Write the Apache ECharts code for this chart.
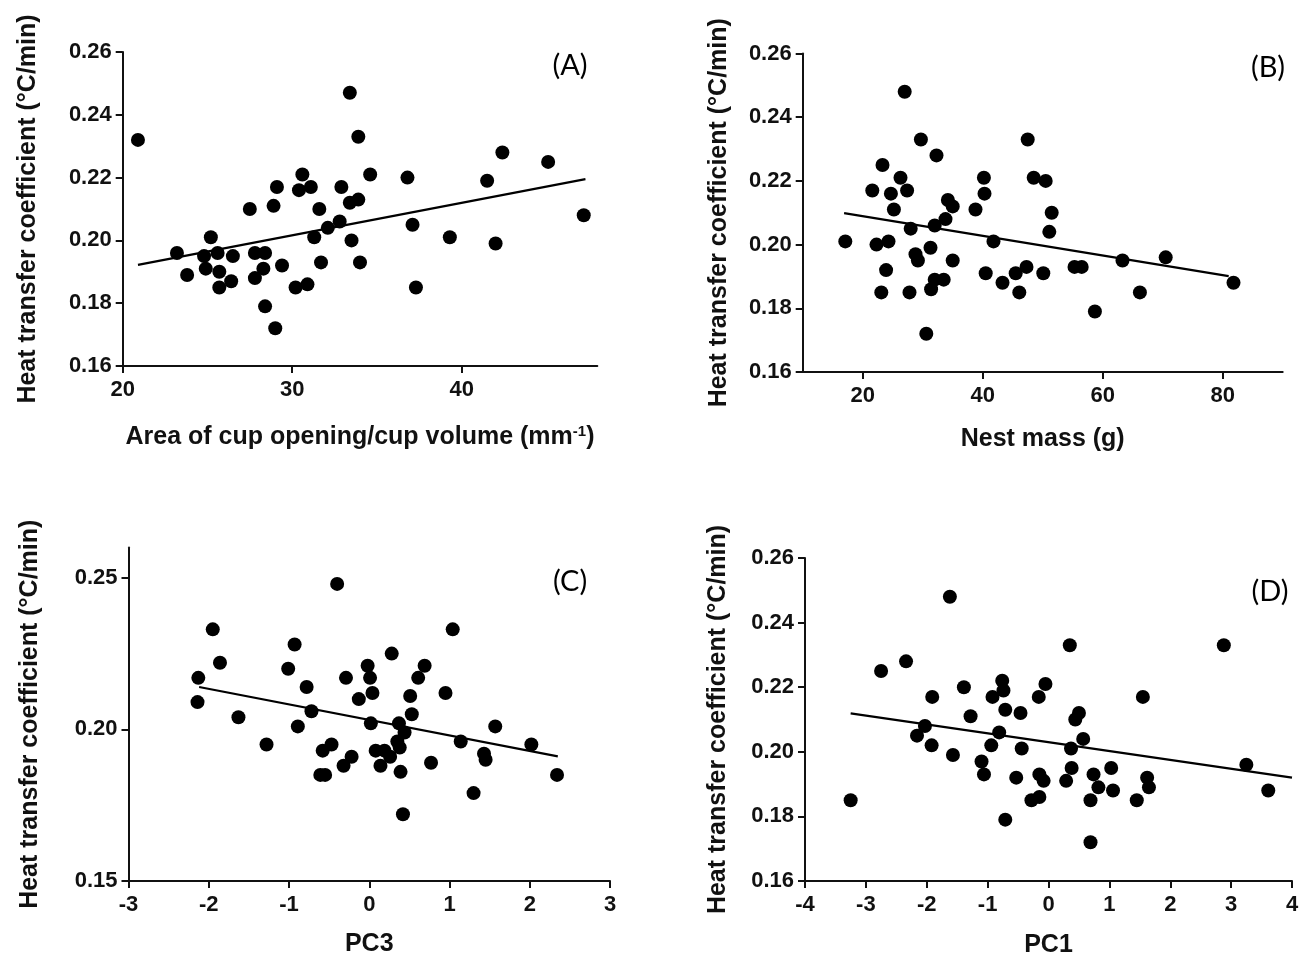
<!DOCTYPE html>
<html>
<head>
<meta charset="utf-8">
<script src="https://cdn.jsdelivr.net/npm/echarts@6/dist/echarts.min.js"></script>
<style>
  html, body { margin: 0; padding: 0; background: #fff; }
  #chart { width: 1304px; height: 959px; }
</style>
</head>
<body>
<div id="chart"></div>
<script>
// panel A: area of cup opening / cup volume
const aX = [20.9, 33.4, 33.9, 42.4, 45.1, 41.5, 36.8, 34.6, 30.6, 30.4, 31.1, 32.9, 29.1, 28.9, 27.5, 31.6, 33.4, 33.9, 32.8, 32.1, 31.3, 33.5, 47.2, 37.1, 39.3, 42.0, 25.2, 23.2, 25.6, 24.8, 26.5, 24.9, 23.8, 25.7, 25.7, 26.4, 27.8, 28.4, 27.8, 28.3, 29.4, 28.4, 29.0, 30.2, 30.9, 31.7, 34.0, 37.3];
const aY = [0.232, 0.247, 0.233, 0.228, 0.225, 0.219, 0.220, 0.221, 0.221, 0.216, 0.217, 0.217, 0.217, 0.211, 0.210, 0.210, 0.212, 0.213, 0.206, 0.204, 0.201, 0.200, 0.208, 0.205, 0.201, 0.199, 0.201, 0.196, 0.196, 0.195, 0.195, 0.191, 0.189, 0.190, 0.185, 0.187, 0.196, 0.196, 0.188, 0.191, 0.192, 0.179, 0.172, 0.185, 0.186, 0.193, 0.193, 0.185];
const aFitX = [20.9, 47.3];
const aFitY = [0.1922, 0.2195];

// panel B: nest mass
const bX = [17.1, 21.6, 23.3, 22.3, 24.3, 24.7, 23.9, 23.1, 25.2, 26.3, 27.0, 27.4, 28.0, 27.8, 28.8, 29.2, 29.7, 31.3, 31.4, 30.6, 32.0, 32.3, 32.0, 33.5, 33.8, 34.2, 35.0, 35.0, 38.8, 40.2, 40.3, 40.5, 41.8, 43.3, 45.5, 46.1, 47.3, 47.5, 48.5, 50.1, 50.5, 51.5, 51.1, 55.3, 56.5, 58.7, 63.3, 66.2, 70.5, 81.8];
const bY = [0.201, 0.217, 0.225, 0.200, 0.201, 0.216, 0.192, 0.185, 0.211, 0.221, 0.248, 0.217, 0.205, 0.185, 0.197, 0.195, 0.233, 0.199, 0.186, 0.172, 0.206, 0.228, 0.189, 0.189, 0.208, 0.214, 0.212, 0.195, 0.211, 0.221, 0.216, 0.191, 0.201, 0.188, 0.191, 0.185, 0.193, 0.233, 0.221, 0.191, 0.220, 0.210, 0.204, 0.193, 0.193, 0.179, 0.195, 0.185, 0.196, 0.188];
const bFitX = [16.9, 81.0];
const bFitY = [0.2099, 0.1901];

// panel C: PC3
const cX = [-2.13, -2.14, -1.95, -1.86, -1.63, -1.28, -1.01, -0.93, -0.89, -0.78, -0.72, -0.58, -0.47, -0.61, -0.55, -0.40, -0.29, -0.32, -0.22, -0.13, -0.02, 0.01, 0.04, 0.02, 0.08, 0.14, 0.19, 0.26, 0.28, 0.37, 0.35, 0.38, 0.44, 0.39, 0.42, 0.51, 0.53, 0.61, 0.69, 0.77, 0.95, 1.04, 1.14, 1.30, 1.43, 1.45, 1.57, 2.02, 2.34];
const cY = [0.217, 0.209, 0.233, 0.222, 0.204, 0.195, 0.220, 0.228, 0.201, 0.214, 0.206, 0.193, 0.195, 0.185, 0.185, 0.248, 0.217, 0.188, 0.191, 0.210, 0.221, 0.217, 0.212, 0.202, 0.193, 0.188, 0.193, 0.191, 0.225, 0.202, 0.196, 0.194, 0.199, 0.186, 0.172, 0.211, 0.205, 0.217, 0.221, 0.189, 0.212, 0.233, 0.196, 0.179, 0.192, 0.190, 0.201, 0.195, 0.185];
const cFitX = [-2.12, 2.35];
const cFitY = [0.2140, 0.1911];

// panel D: PC1
const dX = [-3.25, -2.75, -2.34, -1.62, -2.16, -2.03, -1.91, -1.92, -1.57, -1.39, -1.28, -1.10, -1.06, -0.94, -0.92, -0.81, -0.76, -0.74, -0.71, -0.71, -0.53, -0.46, -0.44, -0.28, -0.15, -0.16, -0.15, -0.08, -0.05, 0.35, 0.29, 0.38, 0.37, 0.44, 0.50, 0.57, 0.69, 0.74, 0.82, 0.69, 1.03, 1.06, 1.45, 1.55, 1.62, 1.65, 2.88, 3.25, 3.61];
const dY = [0.185, 0.225, 0.228, 0.248, 0.205, 0.208, 0.217, 0.202, 0.199, 0.220, 0.211, 0.197, 0.193, 0.202, 0.217, 0.206, 0.222, 0.219, 0.213, 0.179, 0.192, 0.212, 0.201, 0.185, 0.186, 0.217, 0.193, 0.191, 0.221, 0.233, 0.191, 0.195, 0.201, 0.210, 0.212, 0.204, 0.185, 0.193, 0.189, 0.172, 0.195, 0.188, 0.185, 0.217, 0.192, 0.189, 0.233, 0.196, 0.188];
const dFitX = [-3.25, 4.0];
const dFitY = [0.2119, 0.1920];

const panelLabels = ['(A)', '(B)', '(C)', '(D)'];
const yTitle = 'Heat transfer coefficient (\u00B0C/min)';
const xTitles = ['Area of cup opening/cup volume (mm{sup|-1})', 'Nest mass (g)', 'PC3', 'PC1'];

const FONT = '"Liberation Sans", Arial, sans-serif';
const zip = (xs, ys) => xs.map((x, i) => [x, ys[i]]);

const chart = echarts.init(document.getElementById('chart'));

function xAxisFor(i, min, max, interval, ticks, gap) {
  const ax = {
    type: 'value', gridIndex: i, min: min, max: max, interval: interval,
    name: xTitles[i], nameLocation: 'middle', nameGap: gap,
    nameTextStyle: {
      color: '#111', fontFamily: FONT, fontWeight: 'bold', fontSize: 25,
      rich: { sup: { fontFamily: FONT, fontWeight: 'bold', fontSize: 15, verticalAlign: 'top', padding: [0, 0, 12, 0] } }
    },
    axisLine: { onZero: false, lineStyle: { color: '#111', width: 2 } },
    axisTick: { length: 7, lineStyle: { color: '#111', width: 2 } },
    axisLabel: { color: '#111', fontFamily: FONT, fontWeight: 'bold', fontSize: 22, margin: 13 },
    splitLine: { show: false }
  };
  if (ticks) {
    ax.axisTick.customValues = ticks;
    ax.axisLabel.customValues = ticks;
  }
  return ax;
}

function yAxisFor(i, min, max, interval, ticks, gap) {
  const ax = {
    type: 'value', gridIndex: i, min: min, max: max, interval: interval,
    name: yTitle, nameLocation: 'middle', nameGap: gap, nameRotate: 90,
    nameTextStyle: { color: '#111', fontFamily: FONT, fontWeight: 'bold', fontSize: 25 },
    axisLine: { onZero: false, lineStyle: { color: '#111', width: 2 } },
    axisTick: { length: 7, lineStyle: { color: '#111', width: 2 } },
    axisLabel: {
      color: '#111', fontFamily: FONT, fontWeight: 'bold', fontSize: 22, margin: 11,
      formatter: v => v.toFixed(2)
    },
    splitLine: { show: false }
  };
  if (ticks) {
    ax.axisTick.customValues = ticks;
    ax.axisLabel.customValues = ticks;
  }
  return ax;
}

function dots(i, xs, ys) {
  return {
    type: 'scatter', xAxisIndex: i, yAxisIndex: i, data: zip(xs, ys),
    symbol: 'circle', symbolSize: 14, itemStyle: { color: '#000', opacity: 1 }, z: 3
  };
}

function fit(i, xs, ys) {
  return {
    type: 'line', xAxisIndex: i, yAxisIndex: i, data: zip(xs, ys),
    symbol: 'none', lineStyle: { color: '#000', width: 2.2 }, z: 2
  };
}

const labelPos = [[570, 66], [1268, 68], [570, 582], [1270, 592]];

const option = {
  backgroundColor: '#fff',
  animation: false,
  grid: [
    { left: 122.7, top: 52, width: 474.6, height: 314, containLabel: false, outerBoundsMode: 'none' },
    { left: 802.7, top: 53.5, width: 480, height: 318.5, containLabel: false, outerBoundsMode: 'none' },
    { left: 128.5, top: 547.5, width: 481.5, height: 333.5, containLabel: false, outerBoundsMode: 'none' },
    { left: 805, top: 558, width: 487, height: 323, containLabel: false, outerBoundsMode: 'none' }
  ],
  xAxis: [
    xAxisFor(0, 20, 48, 10, [20, 30, 40], 58),
    xAxisFor(1, 10, 90, 10, [20, 40, 60, 80], 55),
    xAxisFor(2, -3, 3, 1, null, 51),
    xAxisFor(3, -4, 4, 1, null, 52)
  ],
  yAxis: [
    yAxisFor(0, 0.16, 0.26, 0.02, null, 82),
    yAxisFor(1, 0.16, 0.26, 0.02, null, 71),
    yAxisFor(2, 0.15, 0.26, 0.05, [0.15, 0.20, 0.25], 86),
    yAxisFor(3, 0.16, 0.26, 0.02, null, 74)
  ],
  series: [
    dots(0, aX, aY), fit(0, aFitX, aFitY),
    dots(1, bX, bY), fit(1, bFitX, bFitY),
    dots(2, cX, cY), fit(2, cFitX, cFitY),
    dots(3, dX, dY), fit(3, dFitX, dFitY)
  ],
  graphic: panelLabels.map((t, i) => ({
    type: 'text', x: labelPos[i][0], y: labelPos[i][1],
    style: { text: t, fill: '#000', font: '29px Lato, "Open Sans", sans-serif', align: 'center', verticalAlign: 'middle' }
  }))
};

chart.setOption(option);
</script>
</body>
</html>
